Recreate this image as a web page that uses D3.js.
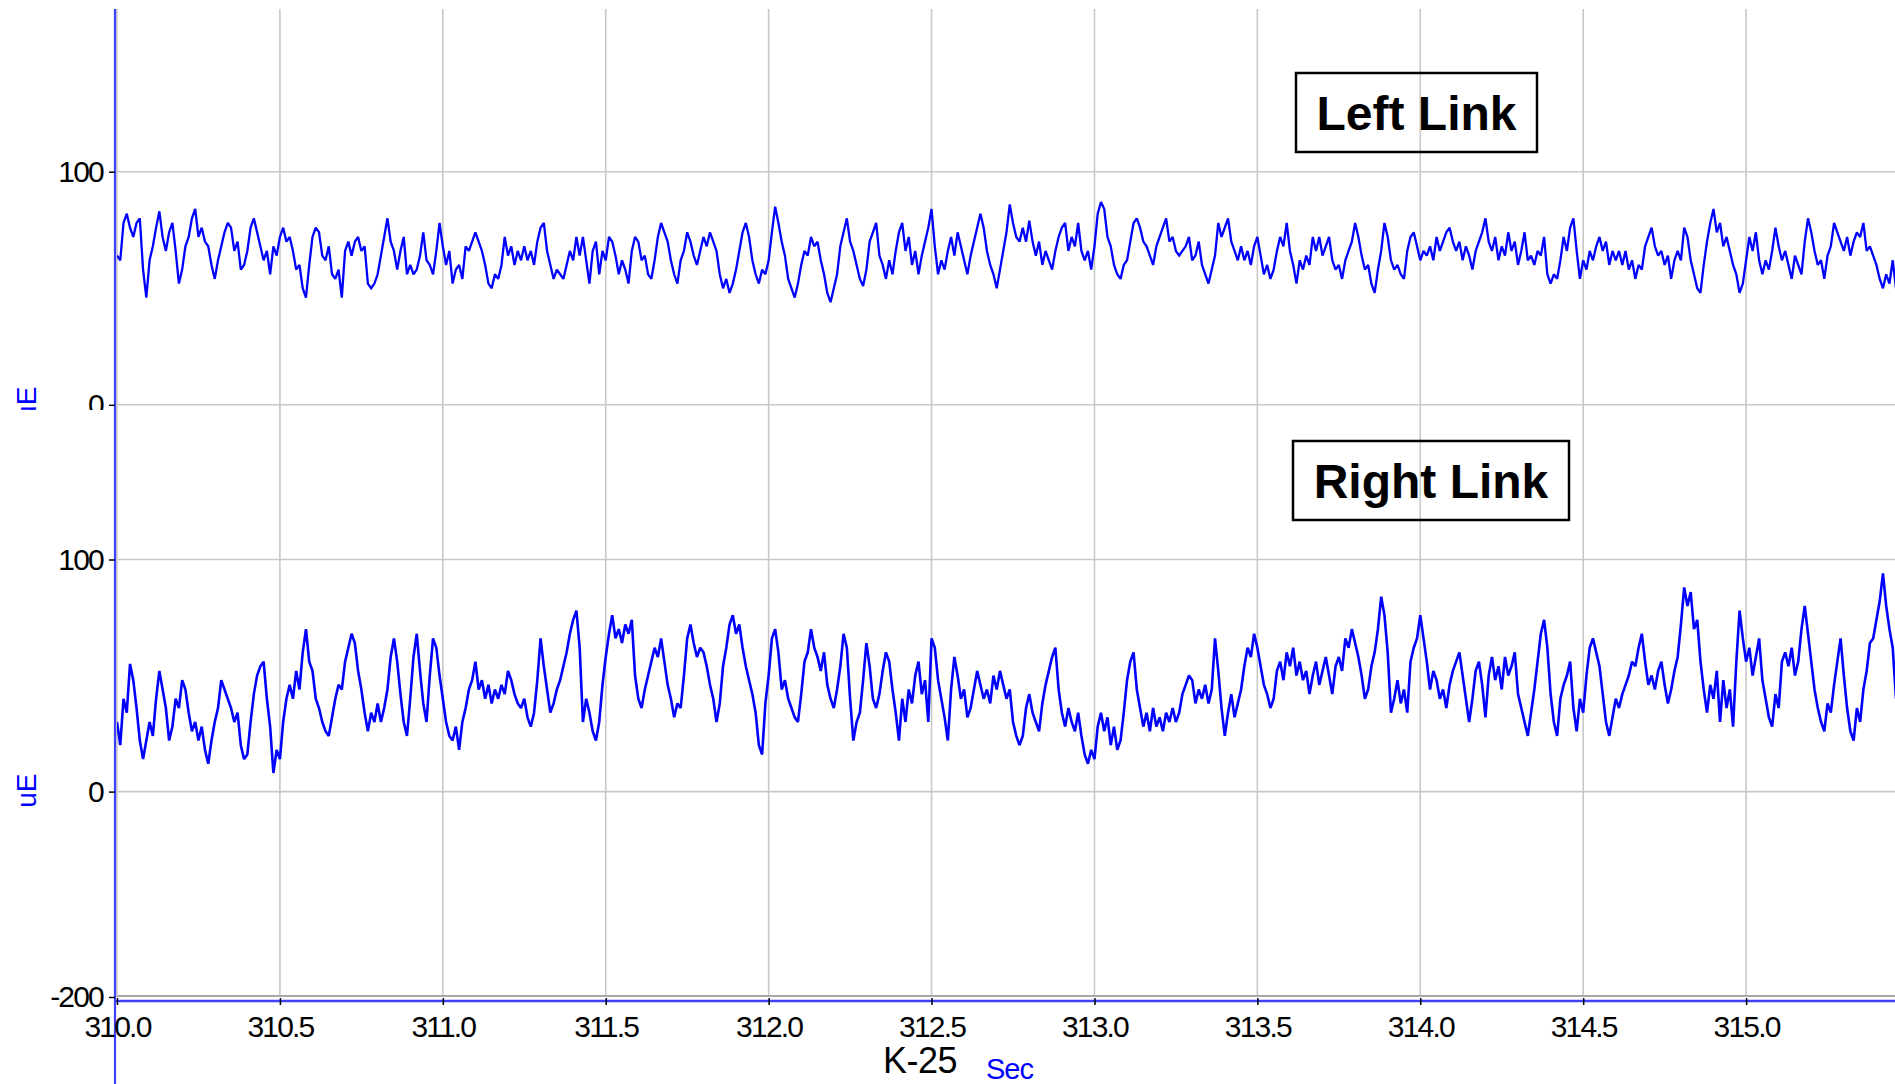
<!DOCTYPE html>
<html><head><meta charset="utf-8">
<script src="https://cdn.jsdelivr.net/npm/d3@7"></script>
<style>
html,body{margin:0;padding:0;background:#fff;overflow:hidden}
svg{display:block;font-family:"Liberation Sans",Arial,sans-serif}
</style></head><body>
<svg id="chart" width="1895" height="1084"></svg>
<script>
// ---------- data ----------
const startTime = 310.0;      // s
const sampleStep = 0.01;      // s
const xDomain = [310.0, 315.457];
const xTicks = [310.0, 310.5, 311.0, 311.5, 312.0, 312.5, 313.0, 313.5, 314.0, 314.5, 315.0];
const topYTicks = [0, 100];
const bottomYTicks = [-200, 0, 100];
const unitLabel = "uE";
const xTitle = "K-25";
const xUnit = "Sec";
const seriesNames = ["Left Link", "Right Link"];

// Left Link strain (uE), one value per 0.01 s from 310.00 s
const leftLink = [
64,62,78,82,76,72,78,80,58,46,
62,68,76,83,72,66,74,78,66,52,
58,68,72,80,84,72,76,70,68,60,
54,62,68,74,78,76,66,70,58,60,
66,76,80,74,68,62,66,56,68,64,
72,76,70,72,66,58,60,50,46,60,
72,76,74,64,62,68,56,54,58,46,
66,70,64,70,72,66,68,52,50,52,
56,64,72,80,70,66,58,66,72,56,
60,56,58,64,74,62,60,56,66,78,
68,60,66,52,58,60,54,68,66,70,
74,70,66,60,52,50,56,54,60,72,
64,68,60,66,62,68,62,66,60,70,
76,78,66,60,54,58,56,54,60,66,
62,72,64,72,62,52,66,70,56,66,
62,72,70,64,56,62,58,52,66,72,
70,62,64,56,54,62,72,78,74,70,
62,56,52,62,66,74,70,64,60,66,
72,68,74,70,66,56,50,54,48,52,
58,66,74,78,72,62,56,52,58,56,
62,74,85,78,70,64,54,50,46,52,
60,66,64,72,68,70,62,56,48,44,
50,56,68,74,80,70,66,60,54,51,
58,70,74,78,64,60,54,62,56,66,
74,78,66,72,60,66,56,64,70,76,
84,68,56,62,58,66,72,64,74,68,
62,56,64,70,76,82,76,66,60,56,
50,58,66,74,86,78,72,70,76,70,
79,70,64,70,60,66,62,58,66,72,
76,78,66,72,68,78,66,62,66,58,
68,82,87,84,72,68,60,56,54,60,
62,70,78,80,76,70,68,64,60,68,
72,76,80,70,72,66,64,66,68,72,
62,64,70,60,56,52,58,64,78,72,
76,80,70,66,62,68,62,66,60,68,
72,64,56,60,54,58,66,72,68,78,
66,60,52,62,58,64,60,72,66,72,
64,68,72,62,58,60,54,62,66,70,
78,72,64,58,60,52,48,58,66,78,
72,62,58,60,56,54,66,72,74,68,
62,66,64,68,62,72,66,70,74,76,
70,66,70,62,68,64,58,66,70,74,
80,70,66,72,62,68,64,74,66,70,
60,66,74,62,64,60,66,64,72,56,
52,56,54,62,72,66,76,80,66,54,
62,58,66,62,68,72,66,70,60,66,
62,66,60,66,58,62,54,60,58,68,
72,76,68,64,66,60,64,54,62,66,
62,76,72,62,56,50,48,60,70,78,
84,74,78,68,72,66,60,56,48,52,
62,72,66,74,62,56,62,58,66,76,
68,62,66,60,54,64,60,56,70,80,
74,66,60,62,54,64,68,78,74,70,
66,72,64,70,74,72,78,66,68,64,
60,54,50,56,52,62,50
];

// Right Link strain (uE), one value per 0.01 s from 310.00 s
const rightLink = [
30,20,40,34,55,48,36,22,14,22,
30,24,40,52,44,36,22,28,40,36,
48,44,34,26,30,22,28,18,12,22,
30,36,48,44,40,36,30,34,20,14,
16,30,42,50,54,56,40,28,8,18,
14,30,40,46,40,52,44,60,70,56,
52,40,36,30,26,24,32,40,46,44,
56,62,68,64,52,44,34,26,34,30,
38,30,36,44,58,66,56,42,30,24,
40,58,68,52,38,30,50,66,62,50,
40,30,24,22,28,18,30,36,44,48,
56,44,48,40,46,38,44,40,46,42,
52,48,42,38,36,40,32,28,34,48,
66,54,44,34,38,44,48,54,60,68,
74,78,62,30,40,34,26,22,30,46,
58,68,76,66,70,64,72,68,74,50,
40,36,44,50,56,62,58,66,56,46,
40,32,38,36,50,66,72,64,58,62,
60,54,46,40,30,38,54,62,72,76,
68,72,62,54,48,42,34,20,16,38,
50,66,70,60,44,48,40,36,32,30,
42,56,60,70,62,58,52,60,46,40,
36,44,54,68,62,40,22,30,34,48,
64,54,40,36,42,52,60,56,44,34,
22,40,30,44,38,50,56,42,48,30,
66,62,48,40,32,22,44,58,50,40,
44,32,36,44,52,46,40,44,38,50,
44,52,46,40,44,30,24,20,24,36,
42,34,30,26,38,46,52,58,62,44,
34,28,36,30,26,34,24,16,12,18,
14,28,34,26,32,20,28,18,22,34,
48,56,60,44,36,28,34,26,36,28,
32,26,34,30,36,30,34,42,46,50,
48,38,44,40,46,38,44,66,52,36,
24,34,42,32,38,44,54,62,58,68,
62,54,46,42,36,40,52,56,48,60,
54,62,50,56,48,52,42,50,56,46,
52,58,50,42,54,58,52,66,62,70,
64,58,50,40,44,54,60,70,84,76,
60,34,40,48,38,44,34,56,62,66,
76,66,56,44,52,48,40,44,36,46,
52,56,60,50,40,30,40,52,56,46,
32,50,58,48,54,44,58,50,54,60,
42,36,30,24,34,44,56,68,74,62,
42,30,24,40,46,50,56,36,26,40,
34,50,62,66,60,54,42,30,24,32,
40,36,42,46,50,56,54,62,68,56,
46,50,44,52,56,46,38,44,52,58,
72,88,80,86,70,74,56,44,34,46,
40,52,30,48,36,44,28,56,78,66,
56,62,50,58,66,48,40,32,28,42,
36,56,60,54,62,50,56,70,80,68,
56,44,36,30,26,38,34,46,56,66,
50,36,26,22,36,30,44,52,64,66,
74,82,94,80,70,62,40
];

// ---------- layout ----------
const W = 1895, H = 1084;
const axisX = 115;
const plotLeft = 117, plotRight = 1895, plotTop = 9, splitY = 410, plotBottom = 997;
const xAxisY = 1001;
const blue = "#0000ff", axisBlue = "#4040ff", grid = "#c8c8c8";

const svg = d3.select("#chart");

const x = d3.scaleLinear().domain(xDomain).range([plotLeft, plotRight]);
const yTop = d3.scaleLinear().domain([0, 100]).range([404.8, 171.7]);
const yBot = d3.scaleLinear().domain([-200, 0, 100]).range([plotBottom, 791.6, 559.5]);

const defs = svg.append("defs");
defs.append("clipPath").attr("id", "clipTopPanel")
  .append("rect").attr("x", 0).attr("y", 0).attr("width", W).attr("height", splitY);
defs.append("clipPath").attr("id", "clipTopPlot")
  .append("rect").attr("x", plotLeft).attr("y", plotTop).attr("width", W - plotLeft).attr("height", splitY - plotTop);
defs.append("clipPath").attr("id", "clipBotPlot")
  .append("rect").attr("x", plotLeft).attr("y", splitY).attr("width", W - plotLeft).attr("height", plotBottom - splitY);

// ---------- grid ----------
const g = svg.append("g");
g.selectAll("line.vgrid").data(xTicks).join("line").attr("class", "vgrid")
  .attr("x1", d => x(d)).attr("x2", d => x(d))
  .attr("y1", plotTop).attr("y2", plotBottom)
  .attr("stroke", grid).attr("stroke-width", 1.6);
g.selectAll("line.htop").data(topYTicks).join("line").attr("class", "htop")
  .attr("x1", plotLeft).attr("x2", plotRight)
  .attr("y1", d => yTop(d)).attr("y2", d => yTop(d))
  .attr("stroke", grid).attr("stroke-width", 1.6);
g.selectAll("line.hbot").data(bottomYTicks.filter(d => d !== -200)).join("line").attr("class", "hbot")
  .attr("x1", plotLeft).attr("x2", plotRight)
  .attr("y1", d => yBot(d)).attr("y2", d => yBot(d))
  .attr("stroke", grid).attr("stroke-width", 1.6);
g.append("line")
  .attr("x1", plotLeft).attr("x2", plotRight)
  .attr("y1", yBot(-200) - 1).attr("y2", yBot(-200) - 1)
  .attr("stroke", "#a8a8a8").attr("stroke-width", 2);

// ---------- signals ----------
const tAt = i => startTime + i * sampleStep;
const lineTop = d3.line().x((d, i) => x(tAt(i))).y(d => yTop(d));
const lineBot = d3.line().x((d, i) => x(tAt(i))).y(d => yBot(d));
svg.append("path").datum(leftLink).attr("clip-path", "url(#clipTopPlot)")
  .attr("d", lineTop).attr("fill", "none").attr("stroke", blue)
  .attr("stroke-width", 2.3).attr("stroke-linejoin", "miter").attr("stroke-miterlimit", 2);
svg.append("path").datum(rightLink).attr("clip-path", "url(#clipBotPlot)")
  .attr("d", lineBot).attr("fill", "none").attr("stroke", blue)
  .attr("stroke-width", 2.6).attr("stroke-linejoin", "miter").attr("stroke-miterlimit", 2);

// ---------- axes ----------
const fmt = d => String(d);
const tickFont = g2 => {
  g2.select(".domain").remove();
  g2.selectAll("text").attr("font-size", 30).attr("fill", "#000")
    .attr("font-family", "'Liberation Sans', Arial, sans-serif")
    .style("letter-spacing", "-1.8px");
  g2.selectAll(".tick line").attr("stroke", "#000").attr("stroke-width", 1.5);
};

// blue axis lines
svg.append("line").attr("x1", axisX).attr("x2", axisX).attr("y1", plotTop).attr("y2", H)
  .attr("stroke", axisBlue).attr("stroke-width", 2.2);
svg.append("line").attr("x1", axisX).attr("x2", W).attr("y1", xAxisY).attr("y2", xAxisY)
  .attr("stroke", axisBlue).attr("stroke-width", 2.5);

const topAxisG = svg.append("g").attr("clip-path", "url(#clipTopPanel)");
topAxisG.append("g").attr("transform", `translate(${axisX},0)`)
  .call(d3.axisLeft(yTop).tickValues(topYTicks).tickSize(6).tickPadding(6).tickFormat(fmt))
  .call(tickFont);
topAxisG.append("text").text(unitLabel)
  .attr("transform", `translate(36,${yTop(0) - 1}) rotate(-90)`)
  .attr("text-anchor", "middle").attr("font-size", 28).attr("fill", blue);

svg.append("g").attr("transform", `translate(${axisX},0)`)
  .call(d3.axisLeft(yBot).tickValues(bottomYTicks).tickSize(6).tickPadding(6).tickFormat(fmt))
  .call(tickFont);
svg.append("text").text(unitLabel)
  .attr("transform", `translate(36,${yBot(0) - 1}) rotate(-90)`)
  .attr("text-anchor", "middle").attr("font-size", 28).attr("fill", blue);

const xAxisG = svg.append("g").attr("transform", `translate(0,${xAxisY - 3})`)
  .call(d3.axisBottom(x).tickValues(xTicks).tickSize(7).tickFormat(d => d.toFixed(1)))
  .call(tickFont);
xAxisG.selectAll("text").attr("y", 39).attr("dy", 0);

// titles
svg.append("text").text(xTitle).attr("x", 883).attr("y", 1073)
  .attr("font-size", 36).attr("fill", "#000").style("letter-spacing", "-0.5px");
svg.append("text").text(xUnit).attr("x", 986).attr("y", 1079)
  .attr("font-size", 29).attr("fill", blue).style("letter-spacing", "-1px");

// ---------- annotation boxes ----------
const boxes = [
  { name: seriesNames[0], x0: 1296, y0: 73, w: 241, h: 79 },
  { name: seriesNames[1], x0: 1293, y0: 441, w: 276, h: 79 }
];
const bg = svg.selectAll("g.box").data(boxes).join("g").attr("class", "box");
bg.append("rect").attr("x", d => d.x0).attr("y", d => d.y0)
  .attr("width", d => d.w).attr("height", d => d.h)
  .attr("fill", "none").attr("stroke", "#000").attr("stroke-width", 2.5);
bg.append("text").text(d => d.name)
  .attr("x", d => d.x0 + d.w / 2).attr("y", d => d.y0 + 57)
  .attr("text-anchor", "middle").attr("font-size", 48).attr("font-weight", "bold")
  .attr("fill", "#000");
</script>
</body></html>
